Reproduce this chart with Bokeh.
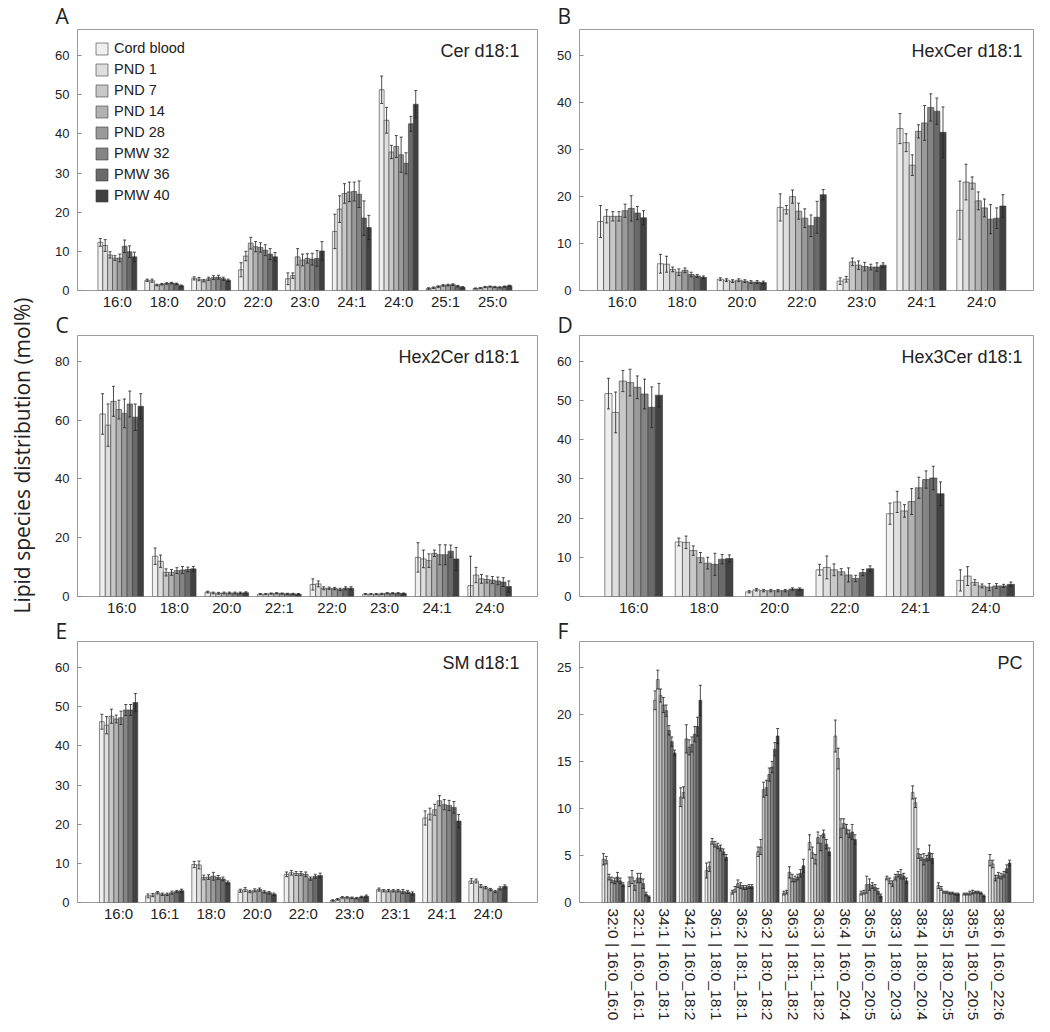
import math
from bokeh.plotting import figure
from bokeh.models import (ColumnDataSource, Range1d, FixedTicker, SingleIntervalTicker,
                          Whisker, TeeHead, Label, Legend, LegendItem, Title)
from bokeh.layouts import row, column
from bokeh.embed import file_html
from bokeh.resources import INLINE

SERIES = ["Cord blood", "PND 1", "PND 7", "PND 14", "PND 28", "PMW 32", "PMW 36", "PMW 40"]
COLORS = ["#efefef", "#dedede", "#c8c8c8", "#b2b2b2", "#9a9a9a", "#848484", "#6a6a6a", "#414141"]
YLABEL = "Lipid species distribution (mol%)"

# ---- Panel A: Cer d18:1 ----
A_cats = ["16:0", "18:0", "20:0", "22:0", "23:0", "24:1", "24:0", "25:1", "25:0"]
A_vals = [[12.3, 11.5, 9.1, 8.3, 8.3, 11.3, 9.9, 8.6],
          [2.6, 2.5, 1.4, 1.6, 1.8, 1.9, 1.7, 1.2],
          [3.1, 2.9, 2.5, 3.0, 3.3, 3.4, 3.0, 2.6],
          [5.3, 8.8, 12.1, 11.2, 11.0, 10.3, 9.3, 8.6],
          [3.0, 3.8, 8.6, 7.8, 8.2, 8.0, 8.2, 10.1],
          [15.1, 20.8, 24.8, 25.2, 25.3, 24.6, 18.5, 16.1],
          [51.3, 43.5, 35.4, 36.8, 34.7, 32.5, 42.6, 47.6],
          [0.5, 0.7, 1.0, 1.3, 1.4, 1.5, 1.1, 0.8],
          [0.5, 0.6, 0.9, 1.0, 0.9, 0.8, 1.0, 1.2]]
A_errs = [[1.0, 1.5, 0.8, 0.6, 1.0, 1.6, 1.5, 1.2],
          [0.3, 0.4, 0.2, 0.2, 0.2, 0.2, 0.2, 0.2],
          [0.4, 0.4, 0.3, 0.4, 0.5, 0.5, 0.4, 0.3],
          [1.8, 1.2, 1.5, 1.3, 1.2, 1.4, 1.4, 1.1],
          [1.5, 0.7, 2.1, 1.5, 1.2, 1.5, 2.0, 2.4],
          [4.4, 3.4, 2.5, 2.5, 2.4, 3.4, 4.4, 3.1],
          [3.5, 3.3, 1.7, 2.8, 4.5, 2.7, 1.9, 3.5],
          [0.2, 0.2, 0.2, 0.2, 0.2, 0.2, 0.2, 0.2],
          [0.15, 0.15, 0.15, 0.15, 0.15, 0.15, 0.15, 0.15]]

# ---- Panel B: HexCer d18:1 ----
B_cats = ["16:0", "18:0", "20:0", "22:0", "23:0", "24:1", "24:0"]
B_vals = [[14.7, 15.8, 15.8, 15.8, 17.0, 17.5, 16.5, 15.5],
          [5.7, 5.6, 4.5, 3.9, 4.3, 3.4, 3.1, 2.8],
          [2.4, 2.2, 2.0, 2.2, 2.0, 1.8, 1.8, 1.7],
          [17.7, 17.2, 20.0, 16.9, 15.4, 13.8, 15.6, 20.4],
          [2.0, 2.4, 6.1, 5.4, 5.1, 5.0, 5.0, 5.4],
          [34.5, 31.5, 26.7, 33.9, 35.7, 39.0, 38.2, 33.7],
          [17.1, 23.1, 22.9, 19.1, 17.6, 15.2, 15.4, 18.0]]
B_errs = [[3.4, 1.4, 1.0, 1.0, 1.4, 2.7, 1.4, 1.5],
          [2.0, 1.7, 0.5, 0.7, 0.5, 0.5, 0.3, 0.3],
          [0.3, 0.3, 0.3, 0.3, 0.3, 0.3, 0.3, 0.3],
          [2.9, 0.9, 1.4, 1.7, 2.0, 2.3, 3.4, 1.1],
          [0.7, 0.6, 0.8, 0.9, 0.9, 0.6, 0.9, 0.5],
          [3.2, 1.9, 2.2, 1.4, 3.7, 2.9, 2.8, 5.4],
          [6.2, 3.8, 1.3, 1.9, 1.9, 3.1, 2.2, 2.4]]

# ---- Panel C: Hex2Cer d18:1 ----
C_cats = ["16:0", "18:0", "20:0", "22:1", "22:0", "23:0", "24:1", "24:0"]
C_vals = [[62.1, 58.3, 66.4, 63.6, 62.3, 65.5, 61.0, 64.7],
          [13.7, 12.0, 8.2, 8.2, 8.8, 9.0, 9.2, 9.4],
          [1.5, 1.2, 1.1, 1.2, 1.2, 1.2, 1.2, 1.3],
          [0.8, 0.8, 1.0, 1.1, 1.0, 0.9, 0.9, 0.8],
          [4.1, 4.3, 2.8, 2.8, 2.7, 2.4, 2.8, 2.8],
          [0.8, 0.8, 0.8, 0.9, 1.1, 1.1, 1.1, 1.0],
          [13.3, 12.8, 12.2, 14.7, 14.2, 14.2, 15.4, 12.8],
          [3.7, 7.3, 6.0, 5.8, 5.6, 5.3, 4.9, 3.4]]
C_errs = [[6.9, 7.2, 5.1, 3.2, 4.9, 4.4, 4.5, 4.3],
          [2.8, 2.1, 1.2, 1.0, 1.0, 1.2, 0.8, 0.8],
          [0.3, 0.3, 0.3, 0.3, 0.3, 0.3, 0.3, 0.3],
          [0.2, 0.2, 0.2, 0.2, 0.2, 0.2, 0.2, 0.2],
          [1.9, 1.0, 0.5, 0.4, 0.4, 0.4, 0.5, 0.5],
          [0.2, 0.2, 0.2, 0.2, 0.2, 0.2, 0.2, 0.2],
          [5.0, 3.0, 2.3, 1.1, 3.4, 3.4, 2.1, 3.9],
          [10.0, 2.6, 1.5, 1.2, 1.2, 1.3, 1.5, 1.9]]

# ---- Panel D: Hex3Cer d18:1 ----
D_cats = ["16:0", "18:0", "20:0", "22:0", "24:1", "24:0"]
D_vals = [[51.7, 46.9, 54.9, 54.5, 53.3, 51.6, 48.2, 51.3],
          [13.9, 13.8, 11.7, 9.9, 8.5, 8.2, 9.5, 9.7],
          [1.2, 1.7, 1.5, 1.5, 1.5, 1.5, 1.9, 1.9],
          [6.8, 7.4, 6.8, 6.3, 5.5, 4.6, 6.1, 7.1],
          [21.1, 24.1, 21.8, 24.2, 27.7, 29.8, 30.2, 26.2],
          [4.1, 5.2, 3.6, 2.7, 2.4, 2.7, 2.7, 3.1]]
D_errs = [[3.9, 5.2, 2.7, 3.4, 2.9, 3.8, 5.2, 3.0],
          [1.0, 1.6, 1.2, 1.3, 1.5, 2.8, 1.2, 0.9],
          [0.3, 0.3, 0.3, 0.3, 0.3, 0.3, 0.3, 0.3],
          [1.4, 2.9, 1.5, 0.8, 1.8, 0.8, 0.8, 0.7],
          [2.7, 2.7, 1.6, 3.3, 2.7, 2.2, 3.0, 3.0],
          [2.7, 2.4, 0.7, 0.5, 0.9, 0.6, 0.4, 0.6]]

# ---- Panel E: SM d18:1 ----
E_cats = ["16:0", "16:1", "18:0", "20:0", "22:0", "23:0", "23:1", "24:1", "24:0"]
E_vals = [[46.2, 45.3, 47.6, 46.9, 47.2, 49.2, 49.2, 51.1],
          [1.7, 1.9, 2.5, 2.1, 2.1, 2.5, 2.8, 3.0],
          [9.7, 9.6, 6.4, 6.5, 6.7, 6.4, 6.0, 5.1],
          [3.0, 3.3, 2.8, 3.1, 3.3, 2.7, 2.5, 2.1],
          [7.2, 7.6, 7.4, 7.4, 7.2, 6.1, 6.7, 6.9],
          [0.5, 0.8, 1.3, 1.3, 1.2, 1.1, 1.4, 1.6],
          [3.3, 3.0, 3.0, 3.0, 3.0, 2.8, 2.7, 2.3],
          [21.6, 22.6, 23.7, 26.0, 25.0, 24.8, 24.3, 20.8],
          [5.5, 5.5, 4.2, 3.8, 3.3, 2.8, 3.6, 4.1]]
E_errs = [[1.9, 2.2, 1.8, 1.0, 1.7, 1.4, 1.4, 2.3],
          [0.5, 0.4, 0.3, 0.3, 0.3, 0.4, 0.3, 0.4],
          [0.8, 1.0, 0.6, 0.6, 1.0, 0.5, 0.5, 0.4],
          [0.4, 0.5, 0.3, 0.4, 0.4, 0.3, 0.3, 0.3],
          [0.6, 0.6, 0.5, 0.5, 0.6, 0.4, 0.5, 0.6],
          [0.2, 0.2, 0.2, 0.2, 0.2, 0.2, 0.2, 0.3],
          [0.4, 0.3, 0.3, 0.3, 0.3, 0.5, 0.4, 0.4],
          [1.8, 1.5, 1.4, 1.3, 1.3, 1.3, 1.5, 1.7],
          [0.6, 0.5, 0.4, 0.3, 0.3, 0.3, 0.4, 0.4]]

# ---- Panel F: PC ----
F_cats = ["32:0 | 16:0_16:0", "32:1 | 16:0_16:1", "34:1 | 16:0_18:1", "34:2 | 16:0_18:2",
          "36:1 | 18:0_18:1", "36:2 | 18:1_18:1", "36:2 | 18:0_18:2", "36:3 | 18:1_18:2",
          "36:3 | 18:1_18:2", "36:4 | 16:0_20:4", "36:5 | 16:0_20:5", "38:3 | 18:0_20:3",
          "38:4 | 18:0_20:4", "38:5 | 18:0_20:5", "38:5 | 18:0_20:5", "38:6 | 16:0_22:6"]
F_vals = [[4.6, 4.5, 2.7, 2.4, 2.3, 2.7, 2.3, 1.9],
          [2.2, 2.7, 1.8, 2.6, 2.6, 2.0, 0.9, 0.6],
          [21.5, 23.7, 22.0, 21.0, 20.4, 18.3, 17.1, 15.9],
          [11.2, 11.7, 17.4, 16.5, 16.8, 17.9, 18.7, 21.5],
          [3.4, 3.8, 6.5, 6.2, 6.0, 5.8, 5.4, 4.8],
          [1.1, 1.4, 2.0, 1.8, 1.6, 1.6, 1.7, 1.7],
          [5.4, 5.9, 12.0, 12.2, 13.6, 14.4, 16.3, 17.7],
          [1.0, 1.1, 3.2, 2.6, 2.5, 2.7, 3.1, 3.9],
          [6.4, 5.3, 4.6, 6.9, 6.3, 7.3, 6.2, 5.4],
          [17.7, 15.3, 7.9, 8.4, 7.8, 7.3, 7.5, 6.7],
          [1.0, 1.1, 1.9, 1.9, 1.8, 1.6, 1.2, 0.7],
          [2.6, 2.3, 2.0, 2.7, 3.0, 3.0, 2.8, 2.3],
          [11.7, 10.6, 5.2, 4.8, 4.6, 4.7, 5.3, 4.7],
          [1.8, 1.5, 1.1, 1.1, 1.0, 1.0, 0.9, 0.9],
          [0.9, 0.9, 1.0, 1.1, 1.1, 1.1, 1.0, 0.7],
          [4.5, 4.1, 2.6, 2.9, 2.8, 3.0, 3.6, 4.2]]
F_errs = [[0.6, 0.4, 0.3, 0.3, 0.3, 0.5, 0.3, 0.2],
          [0.5, 0.7, 0.5, 0.5, 0.5, 0.5, 0.2, 0.1],
          [1.0, 1.0, 0.7, 0.8, 0.6, 0.5, 0.5, 0.3],
          [1.0, 0.6, 1.5, 0.8, 0.8, 0.8, 1.0, 1.6],
          [0.8, 0.5, 0.3, 0.3, 0.3, 0.3, 0.3, 0.3],
          [0.2, 0.3, 0.4, 0.3, 0.2, 0.2, 0.2, 0.2],
          [0.5, 0.8, 0.8, 0.8, 0.7, 0.6, 0.7, 0.8],
          [0.2, 0.2, 0.6, 0.4, 0.3, 0.3, 0.4, 0.7],
          [0.8, 0.6, 0.5, 0.6, 0.8, 0.4, 0.5, 0.4],
          [1.7, 1.1, 1.0, 0.5, 0.5, 0.4, 0.8, 0.5],
          [0.2, 0.2, 0.9, 0.6, 0.3, 0.3, 0.3, 0.2],
          [0.2, 0.3, 0.3, 0.3, 0.3, 0.5, 0.3, 0.3],
          [0.7, 0.5, 0.5, 0.3, 0.6, 0.3, 0.8, 0.5],
          [0.3, 0.2, 0.1, 0.1, 0.1, 0.1, 0.1, 0.1],
          [0.1, 0.1, 0.2, 0.2, 0.1, 0.1, 0.1, 0.1],
          [0.6, 0.4, 0.3, 0.3, 0.3, 0.3, 0.4, 0.3]]

FH = 261
TXT = "#222222"
TICK_FONT = "Liberation Sans"
LETTER_FONT = "Open Sans"


def panel(letter, name, cats, vals, errs, ymax, yint, pad_lo, pad_hi, gw,
          left_col, top_border, title_standoff, xfont="15px", orient="horizontal",
          xstandoff=2, legend=False):
    fw = 460 if left_col else 454
    xr = Range1d(-pad_lo, len(cats) - 1 + pad_hi)
    p = figure(frame_width=fw, frame_height=FH, x_range=xr, y_range=Range1d(0, ymax),
               title=None, output_backend="svg", toolbar_location=None,
               min_border_left=33 if left_col else 38,
               min_border_right=4 if left_col else 5,
               min_border_top=top_border, min_border_bottom=0)
    p.add_layout(Title(text=letter, align="left", offset=-22, standoff=title_standoff,
                       vertical_align="middle", text_font=LETTER_FONT,
                       text_font_size="21px", text_font_style="normal",
                       text_color=TXT), "above")
    p.grid.visible = False
    p.outline_line_color = "#9a9a9a"
    p.outline_line_width = 1
    p.background_fill_color = "white"
    p.border_fill_color = "white"

    bw = gw / 8.0
    items = []
    for j, s in enumerate(SERIES):
        xs = [i + (j - 3.5) * bw for i in range(len(cats))]
        ys = [v[j] for v in vals]
        es = [e[j] for e in errs]
        src = ColumnDataSource(dict(x=xs, top=ys,
                                    hi=[y + e for y, e in zip(ys, es)],
                                    lo=[max(0.0, y - e) for y, e in zip(ys, es)]))
        r = p.vbar(x="x", top="top", bottom=0, width=bw, source=src,
                   fill_color=COLORS[j], line_color="#3a3a3a", line_width=0.6)
        items.append(LegendItem(label=s, renderers=[r]))
        w = Whisker(source=src, base="x", upper="hi", lower="lo",
                    line_color="#222222", line_width=0.8, level="annotation",
                    upper_head=TeeHead(size=3, line_color="#222222", line_width=0.8),
                    lower_head=TeeHead(size=3, line_color="#222222", line_width=0.8))
        p.add_layout(w)

    # x axis
    p.xaxis.ticker = FixedTicker(ticks=list(range(len(cats))))
    p.xaxis.major_label_overrides = {i: c for i, c in enumerate(cats)}
    p.xaxis.major_tick_line_color = None
    p.xaxis.major_tick_in = 0
    p.xaxis.major_tick_out = 0
    p.xaxis.minor_tick_line_color = None
    p.xaxis.axis_line_color = None
    p.xaxis.major_label_text_font = TICK_FONT
    p.xaxis.major_label_text_font_size = xfont
    p.xaxis.major_label_text_color = TXT
    p.xaxis.major_label_standoff = xstandoff
    if orient != "horizontal":
        p.xaxis.major_label_orientation = orient

    # y axis
    p.yaxis.ticker = SingleIntervalTicker(interval=yint, num_minor_ticks=0)
    p.yaxis.axis_line_color = None
    p.yaxis.major_tick_in = 4
    p.yaxis.major_tick_out = 0
    p.yaxis.major_tick_line_color = "#8a8a8a"
    p.yaxis.minor_tick_line_color = None
    p.yaxis.major_label_text_font = TICK_FONT
    p.yaxis.major_label_text_font_size = "13px"
    p.yaxis.major_label_text_color = TXT
    p.yaxis.major_label_standoff = 8

    # panel name (inside, top right)
    p.add_layout(Label(x=xr.end, y=ymax, x_offset=-18 if left_col else -11,
                       y_offset=-11, text=name, text_align="right", text_baseline="top",
                       text_font=TICK_FONT, text_font_size="18px", text_color=TXT))

    if legend:
        lg = Legend(items=items, location=(17, FH - 14 - 160), orientation="vertical",
                    padding=0, margin=0, spacing=5, glyph_width=15, glyph_height=15,
                    label_height=15, label_standoff=5, border_line_color=None,
                    background_fill_alpha=0, label_text_font=TICK_FONT,
                    label_text_font_size="14.5px", label_text_color=TXT)
        p.add_layout(lg)
    return p


pA = panel("A", "Cer d18:1", A_cats, A_vals, A_errs, 66.7, 10, 0.85, 0.96, 0.83, True, 29, -3, legend=True)
pB = panel("B", "HexCer d18:1", B_cats, B_vals, B_errs, 55.6, 10, 0.71, 0.87, 0.82, False, 29, -3)
pC = panel("C", "Hex2Cer d18:1", C_cats, C_vals, C_errs, 88.8, 20, 0.84, 0.91, 0.83, True, 23, -8)
pD = panel("D", "Hex3Cer d18:1", D_cats, D_vals, D_errs, 66.5, 10, 0.77, 0.68, 0.82, False, 23, -8)
pE = panel("E", "SM d18:1", E_cats, E_vals, E_errs, 66.7, 10, 0.89, 1.07, 0.83, True, 23, -8)
pF = panel("F", "PC", F_cats, F_vals, F_errs, 27.75, 5, 1.31, 1.31, 0.87, False, 23, -8,
           xfont="15.5px", orient=-math.pi / 2, xstandoff=6)

LAB_H = 1010
lab = figure(frame_width=44, frame_height=LAB_H, x_range=Range1d(0, 44),
             y_range=Range1d(LAB_H, 0), title=None,
             output_backend="svg", toolbar_location=None, min_border=0)
lab.axis.visible = False
lab.grid.visible = False
lab.outline_line_color = None
lab.add_layout(Label(x=21.5, y=455, text=YLABEL, angle=math.pi / 2, text_align="center",
                     text_baseline="middle", text_font=LETTER_FONT, text_font_size="21px",
                     text_color=TXT))

layout = row(lab, column(pA, pC, pE), column(pB, pD, pF))
open("out.html", "w").write(file_html(layout, INLINE))
